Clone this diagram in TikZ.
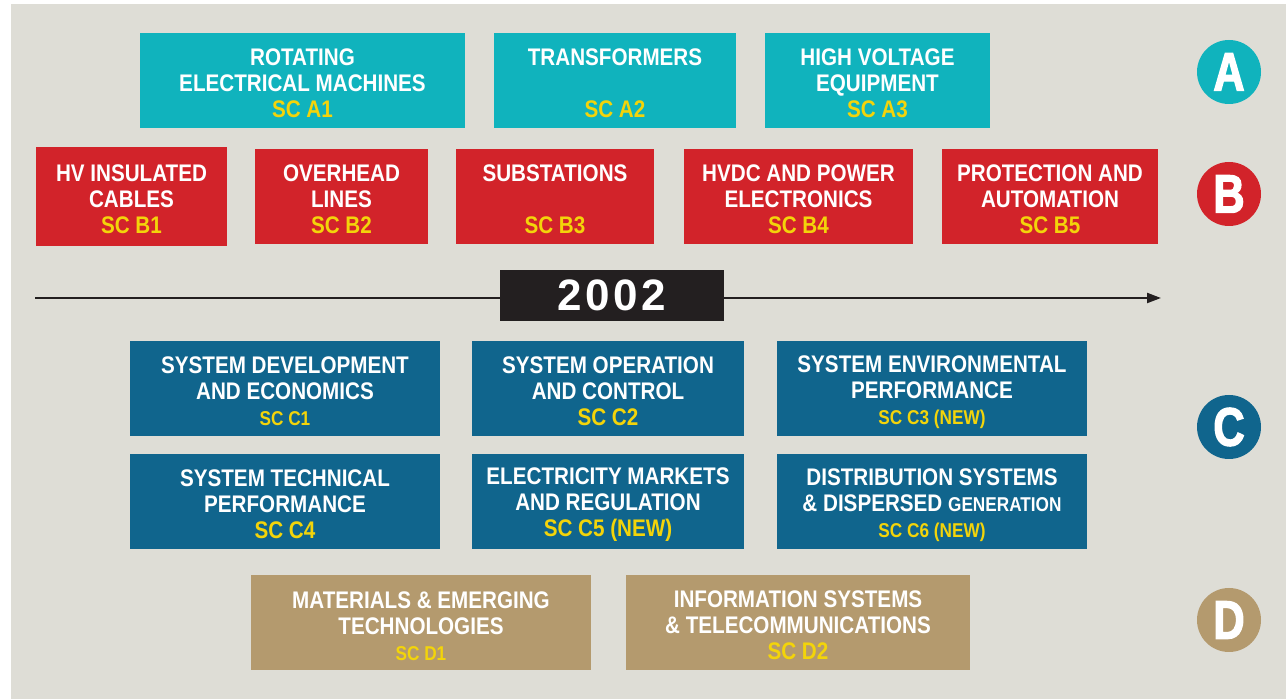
\documentclass[tikz,border=0pt]{standalone}
\usepackage{fontspec}
\setmainfont{Liberation Sans}[FakeStretch=0.86]
\newfontfamily\yearfont{Liberation Sans}[LetterSpace=8]
\newfontfamily\groupfont{Liberation Sans}[FakeStretch=0.8, FakeBold=2.5]
\usetikzlibrary{arrows.meta}
\definecolor{scteal}{HTML}{10B3BD}
\definecolor{scred}{HTML}{D2232A}
\definecolor{scblue}{HTML}{10658D}
\definecolor{sctan}{HTML}{B49A6E}
\definecolor{scpaper}{HTML}{DEDDD6}
\definecolor{scyellow}{HTML}{F3D40A}
\definecolor{scdark}{HTML}{231F20}
\newcommand{\scnum}[1]{\textcolor{scyellow}{#1}}
% first line strut, pushes the block a bit down
\newcommand{\topstrut}{\rule{0pt}{11.6pt}}

\begin{document}
\begin{tikzpicture}[
  x=0.5pt, y=-0.5pt,
  box/.style={minimum height=47.5pt, inner sep=0pt, align=center,
              text=white, font=\fontsize{12}{13}\selectfont\bfseries},
  abox/.style={box, fill=scteal},
  bbox/.style={box, fill=scred},
  cbox/.style={box, fill=scblue},
  dbox/.style={box, fill=sctan},
  grp/.style={circle, minimum size=32pt, inner sep=0pt, text=white,
              font=\groupfont\fontsize{27}{27}\selectfont\bfseries},
  arr/.style={-{Triangle[length=7pt, width=5pt]}, line width=1.1pt, scdark},
]
\useasboundingbox (0,0) rectangle (1286,699);
\fill[scpaper] (11,4) rectangle (1286,699);

% ---- A: equipment ----
\node[abox, minimum width=162.5pt] (a1) at (302.5, 80.5)
  {\topstrut ROTATING\\ELECTRICAL MACHINES\\\scnum{SC A1}};
\node[abox, minimum width=121pt] (a2) at (615, 80.5)
  {\topstrut TRANSFORMERS\\\mbox{}\\\scnum{SC A2}};
\node[abox, minimum width=112.5pt] (a3) at (877.5, 80.5)
  {\topstrut HIGH VOLTAGE\\EQUIPMENT\\\scnum{SC A3}};

% ---- B: subsystems ----
\node[bbox, minimum width=95.5pt, minimum height=49.5pt] (b1) at (131.5, 196.5)
  {\topstrut HV INSULATED\\CABLES\\\scnum{SC B1}};
\node[bbox, minimum width=86.5pt] (b2) at (341.5, 196.5)
  {\topstrut OVERHEAD\\LINES\\\scnum{SC B2}};
\node[bbox, minimum width=99pt] (b3) at (555, 196.5)
  {\topstrut SUBSTATIONS\\\mbox{}\\\scnum{SC B3}};
\node[bbox, minimum width=114.5pt] (b4) at (798.5, 196.5)
  {\topstrut HVDC AND POWER\\ELECTRONICS\\\scnum{SC B4}};
\node[bbox, minimum width=108pt] (b5) at (1050, 196.5)
  {\topstrut PROTECTION AND\\AUTOMATION\\\scnum{SC B5}};

% ---- time line ----
\coordinate (tstart) at (35, 298);
\coordinate (tend) at (1161, 298);
\draw[arr] (tstart) -- (tend);
\node[fill=scdark, minimum width=112pt, minimum height=25.5pt, inner sep=0pt,
      text=white, font=\yearfont\fontsize{22}{22}\selectfont\bfseries]
  (year) at (612, 295.5) {2002};

% ---- C: systems ----
\node[cbox, minimum width=155pt] (c1) at (285, 388.5)
  {\topstrut SYSTEM DEVELOPMENT\\AND ECONOMICS\\\scnum{\fontsize{10}{13}\selectfont SC C1}};
\node[cbox, minimum width=136pt] (c2) at (608, 388.5)
  {\topstrut SYSTEM OPERATION\\AND CONTROL\\\scnum{SC C2}};
\node[cbox, minimum width=155pt] (c3) at (932, 388.5)
  {\topstrut SYSTEM ENVIRONMENTAL\\PERFORMANCE\\\scnum{\fontsize{10}{13}\selectfont SC C3 (NEW)}};
\node[cbox, minimum width=155pt] (c4) at (285, 501.5)
  {\topstrut SYSTEM TECHNICAL\\PERFORMANCE\\\scnum{SC C4}};
\node[cbox, minimum width=136pt] (c5) at (608, 501.5)
  {\topstrut ELECTRICITY MARKETS\\AND REGULATION\\\scnum{SC C5 (NEW)}};
\node[cbox, minimum width=155pt] (c6) at (932, 501.5)
  {\topstrut DISTRIBUTION SYSTEMS\\\& DISPERSED {\fontsize{10}{13}\selectfont GENERATION}\\\scnum{\fontsize{10}{13}\selectfont SC C6 (NEW)}};

% ---- D: new technologies ----
\node[dbox, minimum width=170pt] (d1) at (421, 622.5)
  {\topstrut MATERIALS \& EMERGING\\TECHNOLOGIES\\\scnum{\fontsize{10}{13}\selectfont SC D1}};
\node[dbox, minimum width=172pt] (d2) at (798, 622.5)
  {\topstrut INFORMATION SYSTEMS\\\& TELECOMMUNICATIONS\\\scnum{SC D2}};

% ---- group markers ----
\node[grp, fill=scteal] (ga) at (1229, 72)  {A};
\node[grp, fill=scred]  (gb) at (1229, 194) {B};
\node[grp, fill=scblue] (gc) at (1229, 427) {C};
\node[grp, fill=sctan]  (gd) at (1229, 620) {D};

\end{tikzpicture}
\end{document}
